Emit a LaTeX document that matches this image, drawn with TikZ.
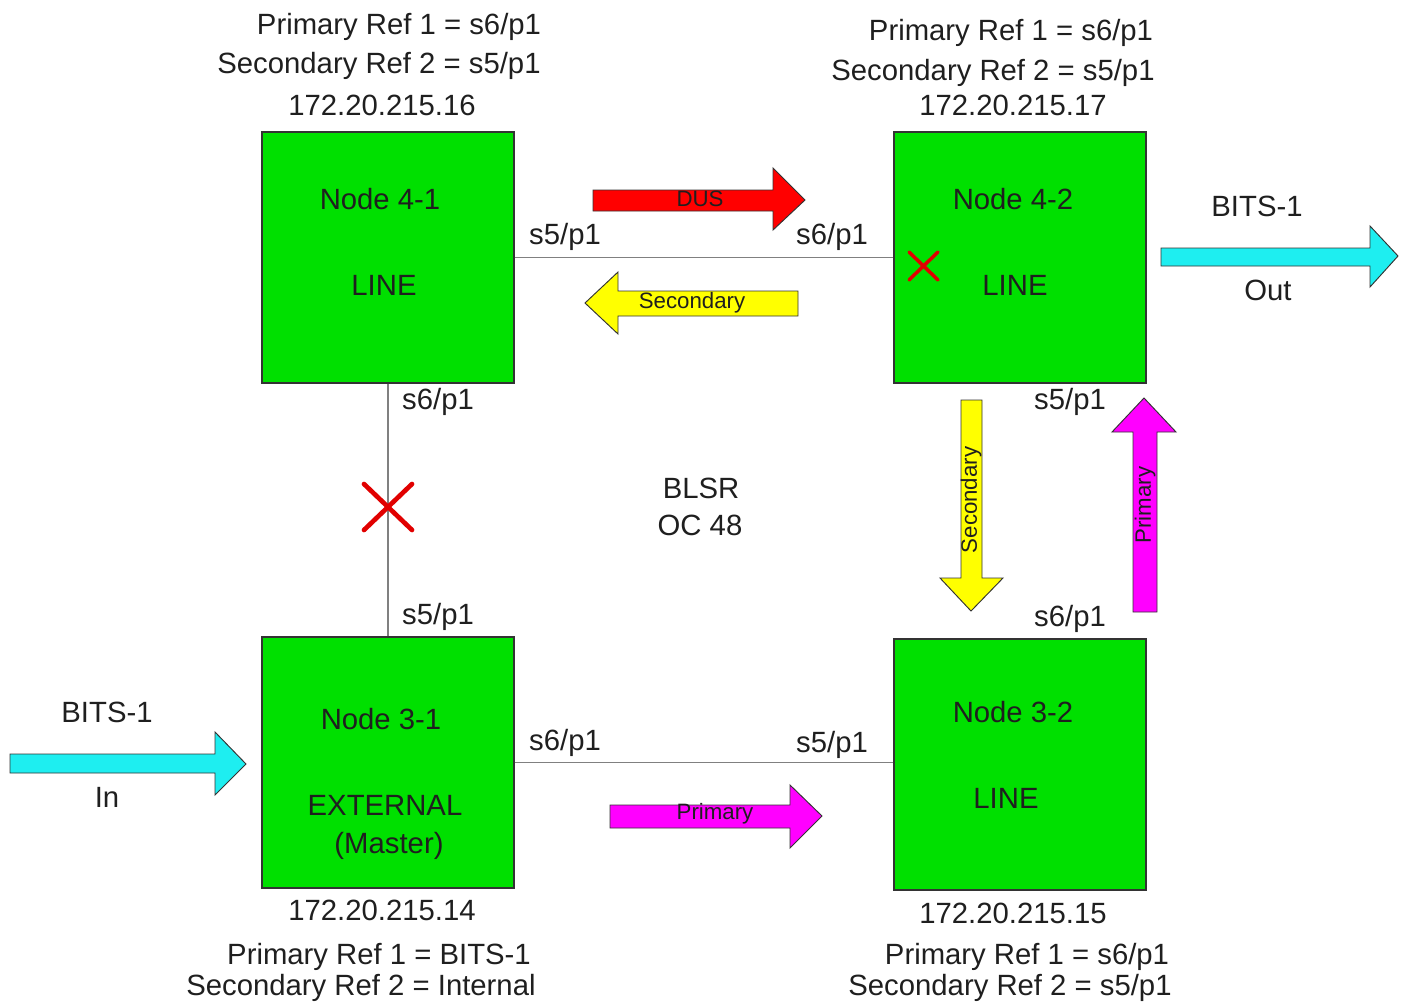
\documentclass[tikz,border=0pt]{standalone}
\usepackage{fontspec}
\setmainfont{Liberation Sans}
\begin{document}
\begin{tikzpicture}[x=0.03cm,y=-0.03cm,
  every node/.style={text=black!88, inner sep=0pt},
  lbl/.style={font=\fontsize{25}{30}\selectfont},
  small/.style={font=\fontsize{19}{22}\selectfont},
  nodebox/.style={draw=black!80, line width=0.9pt, fill=boxgreen,
    minimum width=7.56cm, minimum height=7.53cm},
  link/.style={draw=black!50, line width=1.5pt},
  barrow/.style={draw=black!80, line width=0.8pt, line join=miter},
  cross/.style={draw=crossred, line width=4pt, line cap=round}]
\definecolor{boxgreen}{RGB}{0,224,0}
\definecolor{bitscyan}{RGB}{30,238,240}
\definecolor{flowred}{RGB}{255,0,0}
\definecolor{flowyellow}{RGB}{255,255,0}
\definecolor{flowmagenta}{RGB}{255,0,255}
\definecolor{crossred}{RGB}{225,0,0}
\useasboundingbox (0,0) rectangle (1407,1004);

% ring nodes
\node[nodebox] (n41) at (388,257.5) {};
\node[nodebox] (n42) at (1020,257.5) {};
\node[nodebox] (n31) at (388,762.5) {};
\node[nodebox] (n32) at (1020,764.5) {};

% fibre spans of the ring
\draw[link] (n41.east) -- (n41.east -| n42.west);
\draw[link] (n31.east) -- (n31.east -| n32.west);
\draw[link] (n41.south) -- (n31.north);
\draw[link] (n42.south) -- (n42.south -| n32.north);

% node captions
\node[lbl] (t41a) at (380,199) {Node 4-1};
\node[lbl] (t41b) at (384,285) {LINE};
\node[lbl] (t42a) at (1013,199) {Node 4-2};
\node[lbl] (t42b) at (1015,285) {LINE};
\node[lbl] (t31a) at (381,719) {Node 3-1};
\node[lbl] (t31b) at (385,805) {EXTERNAL};
\node[lbl] (t31c) at (389,846) {(Master)};
\node[lbl] (t32a) at (1013,712) {Node 3-2};
\node[lbl] (t32b) at (1006,798) {LINE};

% port labels
\node[lbl] (p1) at (565,237) {s5/p1};
\node[lbl] (p2) at (832,237) {s6/p1};
\node[lbl] (p3) at (438,402) {s6/p1};
\node[lbl] (p4) at (1070,402) {s5/p1};
\node[lbl] (p5) at (438,617) {s5/p1};
\node[lbl] (p6) at (1070,619) {s6/p1};
\node[lbl] (p7) at (565,743) {s6/p1};
\node[lbl] (p8) at (832,745) {s5/p1};

% timing references
\node[lbl] (r1) at (399,27) {Primary Ref 1 = s6/p1};
\node[lbl] (r2) at (379,66) {Secondary Ref 2 = s5/p1};
\node[lbl] (r3) at (382,105) {172.20.215.16};
\node[lbl] (r4) at (1011,33) {Primary Ref 1 = s6/p1};
\node[lbl] (r5) at (993,73) {Secondary Ref 2 = s5/p1};
\node[lbl] (r6) at (1013,105) {172.20.215.17};
\node[lbl] (r7) at (382,910) {172.20.215.14};
\node[lbl] (r8) at (379,957) {Primary Ref 1 = BITS-1};
\node[lbl] (r9) at (361,988) {Secondary Ref 2 = Internal};
\node[lbl] (r10) at (1013,913) {172.20.215.15};
\node[lbl] (r11) at (1027,957) {Primary Ref 1 = s6/p1};
\node[lbl] (r12) at (1010,988) {Secondary Ref 2 = s5/p1};

% ring name
\node[lbl] (ring1) at (701,488) {BLSR};
\node[lbl] (ring2) at (700,525) {OC 48};

% BITS clock input and output
\node[lbl] (bin) at (107,712) {BITS-1};
\node[lbl] (bin2) at (107,797) {In};
\draw[barrow, fill=bitscyan] (10,754) -- (215,754) -- (215,732) -- (246,764)
  -- (215,795) -- (215,773) -- (10,773) -- cycle;
\node[lbl] (bout) at (1257,206) {BITS-1};
\node[lbl] (bout2) at (1268,290) {Out};
\draw[barrow, fill=bitscyan] (1161,248) -- (1370,248) -- (1370,226) -- (1398,256)
  -- (1370,287) -- (1370,266) -- (1161,266) -- cycle;

% timing flow arrows
\draw[barrow, fill=flowred] (593,190) -- (773,190) -- (773,168) -- (805,200)
  -- (773,230) -- (773,211) -- (593,211) -- cycle;
\node[small] (dus) at (700,199) {DUS};
\draw[barrow, fill=flowyellow] (798,291) -- (618,291) -- (618,272) -- (585,303)
  -- (618,334) -- (618,316) -- (798,316) -- cycle;
\node[small] (sec1) at (692,303) {Secondary};
\draw[barrow, fill=flowyellow] (961,400) -- (961,578) -- (940,578) -- (971,611)
  -- (1003,578) -- (982,578) -- (982,400) -- cycle;
\node[small, rotate=90] (sec2) at (971,500) {Secondary};
\draw[barrow, fill=flowmagenta] (1133,612) -- (1133,432) -- (1112,432) -- (1144,398)
  -- (1176,432) -- (1157,432) -- (1157,612) -- cycle;
\node[small, rotate=90] (pri1) at (1145,505) {Primary};
\draw[barrow, fill=flowmagenta] (610,805) -- (790,805) -- (790,785) -- (822,816)
  -- (790,848) -- (790,828) -- (610,828) -- cycle;
\node[small] (pri2) at (715,814) {Primary};

% failure marks
\draw[cross] (364,484) -- (412,530) (412,484) -- (364,530);
\draw[cross, line width=3pt] (909,252) -- (938,280) (938,252) -- (909,280);
\end{tikzpicture}
\end{document}
